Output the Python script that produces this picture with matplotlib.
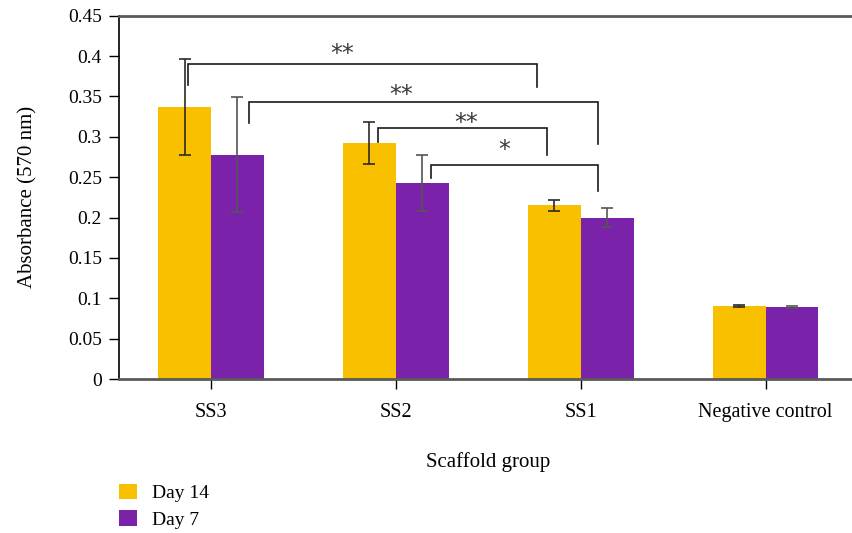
import numpy as np
import matplotlib.pyplot as plt

# absorbance at 570 nm per scaffold group
groups = ["SS3", "SS2", "SS1", "Negative control"]
day14 = [0.337, 0.292, 0.215, 0.0905]
day14_err = [0.059, 0.026, 0.007, 0.001]
day7 = [0.278, 0.243, 0.200, 0.0892]
day7_err = [0.071, 0.035, 0.012, 0.001]

# significance brackets: (x left, x right, y top, y left leg, y right leg, label, label x, label y)
brackets = [
    (-0.123, 1.764, 0.390, 0.364, 0.362, "**", 0.712, 0.402),
    (0.205, 2.094, 0.3436, 0.3176, 0.291, "**", 1.031, 0.352),
    (0.904, 1.818, 0.3107, 0.294, 0.278, "**", 1.378, 0.317),
    (1.188, 2.094, 0.265, 0.249, 0.233, "*", 1.584, 0.284),
]

YELLOW = "#F9C000"
PURPLE = "#7B22AB"

plt.rcParams["font.family"] = ["Liberation Serif", "DejaVu Serif"]

fig = plt.figure(figsize=(8.52, 5.33), dpi=100)
ax = fig.add_axes([118.5 / 852, 154 / 533, (858 - 118.5) / 852, 363.3 / 533])

x = np.arange(len(groups))
w = 0.286
ax.bar(x - w / 2, day14, w, color=YELLOW, label="Day 14", zorder=2)
ax.bar(x + w / 2, day7, w, color=PURPLE, label="Day 7", zorder=2)
ax.errorbar(x - w / 2, day14, yerr=day14_err, fmt="none", ecolor="#2b2b2b",
            elinewidth=1.2, capsize=4, capthick=1.2, zorder=3)
ax.errorbar(x + w / 2, day7, yerr=day7_err, fmt="none", ecolor="#555555",
            elinewidth=1.2, capsize=4, capthick=1.2, zorder=3)

for x0, x1, yt, yl, yr, lab, tx, ty in brackets:
    ax.plot([x0, x0, x1, x1], [yl, yt, yt, yr], color="#1a1a1a", lw=1.2,
            solid_joinstyle="miter", zorder=4)
    ax.text(tx, ty, lab, ha="center", va="center", fontsize=17,
            color="#3a3a3a", family="DejaVu Sans")

ax.set_xlim(-0.5, 3.5)
ax.set_ylim(0, 0.45)
ax.set_yticks(np.arange(0, 0.451, 0.05))
ax.set_yticklabels(["0", "0.05", "0.1", "0.15", "0.2", "0.25", "0.3", "0.35", "0.4", "0.45"])
ax.set_xticks(x)
ax.set_xticklabels(groups)
ax.tick_params(axis="y", direction="out", length=7, width=1, pad=5, labelsize=14)
ax.tick_params(axis="x", direction="out", length=7, width=1, pad=10, labelsize=14.5)

ax.spines["right"].set_visible(False)
ax.spines["left"].set_color("black")
ax.spines["left"].set_linewidth(1.2)
for side in ["top", "bottom"]:
    ax.spines[side].set_color("#5a5a5a")
    ax.spines[side].set_linewidth(2)

ax.set_ylabel("Absorbance (570 nm)", fontsize=15)
ax.yaxis.set_label_coords(-81 / (858 - 118.5), 0.5)
ax.set_xlabel("Scaffold group", fontsize=15)
ax.xaxis.set_label_coords((488 - 118.5) / (858 - 118.5), -73 / 363.3)

fig.legend(loc="upper left", bbox_to_anchor=(111 / 852, 1 - 476 / 533),
           frameon=False, fontsize=14, handlelength=0.95, handleheight=0.85,
           handletextpad=0.75, labelspacing=0.4, borderaxespad=0)

fig.savefig("out.png", dpi=100)
